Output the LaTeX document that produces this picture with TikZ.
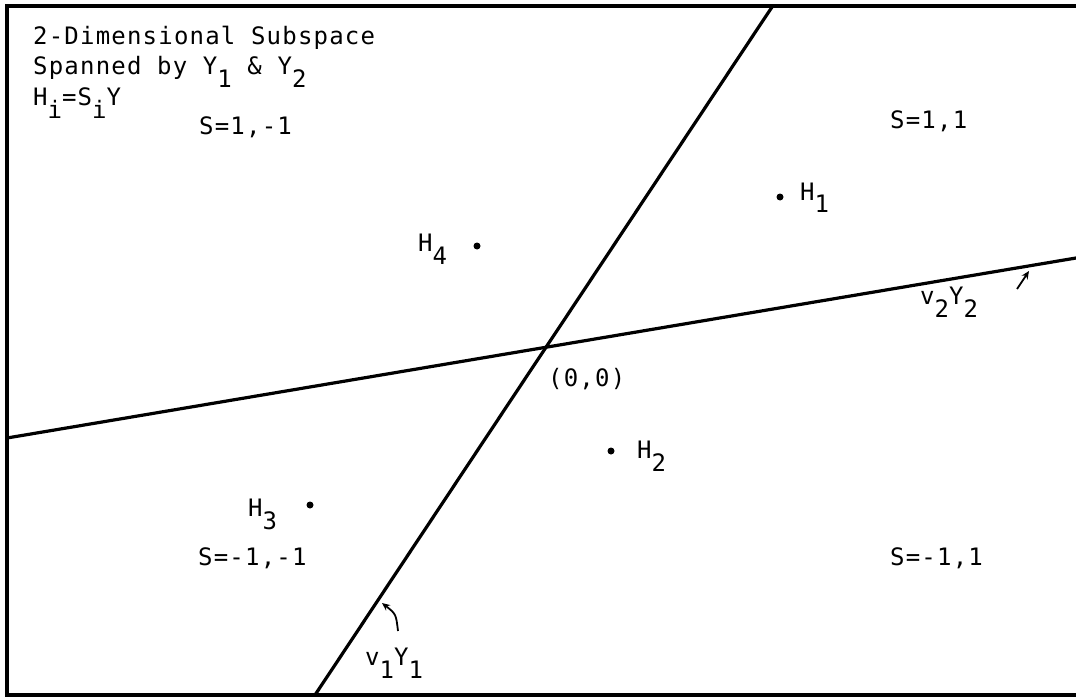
\documentclass[tikz,border=0pt]{standalone}
\usepackage{fontspec}
\usetikzlibrary{arrows.meta}
\newfontfamily\tw[LetterSpace=5]{DejaVu Sans Mono}
\newcommand\sbs[1]{\raisebox{-13pt}{#1}}
\tikzset{
  txt/.style={font=\tw\fontsize{24}{28}\selectfont, inner sep=0pt, anchor=base west},
  frame/.style={line width=3.2pt},
  axis/.style={line width=3.2pt},
  pt/.style={circle, fill=black, inner sep=0pt, minimum size=7pt},
  ptr/.style={line width=1.8pt, -{Stealth[length=8pt,width=7pt]}}
}
\begin{document}
\begin{tikzpicture}[x=1pt,y=-1pt]
\useasboundingbox (0,0) rectangle (1076,698);
% frame
\coordinate (ftr) at (1076,6);
\coordinate (ftl) at (7,6);
\coordinate (fbl) at (7,695);
\coordinate (fbr) at (1076,695);
\draw[frame] (ftr) -- (ftl) -- (fbl) -- (fbr);
% axes
\coordinate (o) at (543,348);
\coordinate (y1lo) at (315,695);
\coordinate (y1hi) at (772,7);
\coordinate (y2lo) at (7,438);
\coordinate (y2hi) at (1076,258);
\draw[axis] (y1lo) -- (y1hi);
\draw[axis] (y2lo) -- (y2hi);
% header text
\node[txt] (t1) at (33,45) {2-Dimensional Subspace};
\node[txt] (t2) at (33,75) {Spanned by Y\sbs{1} \& Y\sbs{2}};
\node[txt] (t3) at (33,106) {H\sbs{i}=S\sbs{i}Y};
% region labels
\node[txt] (s1) at (199,135) {S=1,-1};
\node[txt] (s2) at (890,129) {S=1,1};
\node[txt] (s3) at (198,565) {S=-1,-1};
\node[txt] (s4) at (890,565) {S=-1,1};
% points
\node[pt] (h1p) at (780,197) {};
\node[txt] (h1) at (800,200) {H\sbs{1}};
\node[pt] (h4p) at (477,246) {};
\node[txt] (h4) at (418,251) {H\sbs{4}};
\node[pt] (h2p) at (611,451) {};
\node[txt] (h2) at (637,458) {H\sbs{2}};
\node[pt] (h3p) at (310,505) {};
\node[txt] (h3) at (248,516) {H\sbs{3}};
% origin
\node[txt] (orig) at (548,386) {(0,0)};
% axis labels
\node[txt] (v2) at (920,304) {v\sbs{2}Y\sbs{2}};
\node[txt] (v1) at (365,665) {v\sbs{1}Y\sbs{1}};
\coordinate (a2s) at (1017,289);
\coordinate (a2t) at (1029,271);
\draw[ptr] (a2s) -- (a2t);
\coordinate (a1s) at (398,631);
\coordinate (a1t) at (382,603);
\draw[ptr] (a1s) .. controls (396,614) .. (a1t);
\end{tikzpicture}
\end{document}
